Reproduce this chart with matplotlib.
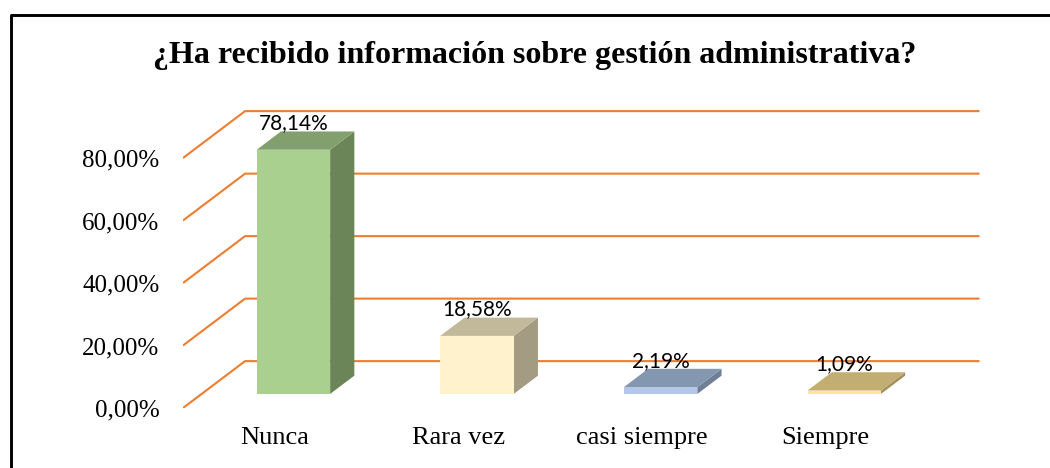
import matplotlib.pyplot as plt
from matplotlib.patches import Polygon
from matplotlib.lines import Line2D

categories = ['Nunca', 'Rara vez', 'casi siempre', 'Siempre']
values = [78.14, 18.58, 2.19, 1.09]
value_labels = ['78,14%', '18,58%', '2,19%', '1,09%']
y_ticks = [0, 20, 40, 60, 80]
y_tick_labels = ['0,00%', '20,00%', '40,00%', '60,00%', '80,00%']
title = '¿Ha recibido información sobre gestión administrativa?'

# front / top / side shades of each bar
front_colors = ['#A9D08E', '#FFF2CC', '#B4C7E7', '#FFE699']
top_colors = ['#82A06E', '#C2B89A', '#8497B0', '#C2AE72']
side_colors = ['#6C8558', '#A39C82', '#6F7F96', '#A3915C']
grid_color = '#ED7D31'

# oblique depth of the floor/back wall in data units (categories, percent)
DEPTH_X = 0.338
DEPTH_Y = 15.0
BAR_W = 0.40
F0, F1 = 0.30, 0.69  # bar front and back, as a fraction of the full depth

fig = plt.figure(figsize=(10.5, 4.68), dpi=100)
fig.patch.set_facecolor('white')

# chart frame, left and top edges
fig.add_artist(Line2D([10.5 / 1050, 10.5 / 1050, 1.0], [0.0, 1 - 14.5 / 468, 1 - 14.5 / 468],
                      transform=fig.transFigure, color='black', lw=2.1))

fig.text(535 / 1050, 1 - 56 / 468, title, ha='center', va='center',
         fontfamily='Liberation Serif', fontweight='bold', fontsize=23)

ax = fig.add_axes([183 / 1050, 60 / 468, 798.7 / 1050, 300 / 468])
ax.set_xlim(-0.5, 3.85)
ax.set_ylim(0, 96)
for s in ax.spines.values():
    s.set_visible(False)
ax.patch.set_alpha(0)

# gridlines: diagonal on the left wall, horizontal along the back wall
for v in y_ticks:
    ax.plot([-0.5, -0.5 + DEPTH_X, 3.5 + DEPTH_X], [v, v + DEPTH_Y, v + DEPTH_Y],
            color=grid_color, lw=1.5, zorder=1, solid_capstyle='butt')

dd = (F1 - F0) * DEPTH_X
dy = (F1 - F0) * DEPTH_Y
for i, v in enumerate(values):
    x0 = i - BAR_W / 2 + F0 * DEPTH_X
    x1 = i + BAR_W / 2 + F0 * DEPTH_X
    yb = F0 * DEPTH_Y
    yt = yb + v
    side = Polygon([(x1, yb), (x1 + dd, yb + dy), (x1 + dd, yt + dy), (x1, yt)],
                   closed=True, facecolor=side_colors[i], edgecolor='none', zorder=3)
    top = Polygon([(x0, yt), (x1, yt), (x1 + dd, yt + dy), (x0 + dd, yt + dy)],
                  closed=True, facecolor=top_colors[i], edgecolor='none', zorder=3)
    front = Polygon([(x0, yb), (x1, yb), (x1, yt), (x0, yt)],
                    closed=True, facecolor=front_colors[i], edgecolor='none', zorder=4)
    for p in (side, top, front):
        ax.add_patch(p)
    ax.annotate(value_labels[i], ((x0 + x1) / 2, yt), xytext=(0, 19),
                textcoords='offset points', ha='center', va='center',
                fontfamily='Lato', fontsize=15, color='black', zorder=5)

ax.set_yticks(y_ticks)
ax.set_yticklabels(y_tick_labels, fontfamily='Liberation Serif', fontsize=18)
ax.set_xticks(range(len(categories)))
ax.set_xticklabels(categories, fontfamily='Liberation Serif', fontsize=19)
ax.tick_params(axis='y', length=0, pad=17)
ax.tick_params(axis='x', length=0, pad=14)

fig.savefig('out.png', dpi=100)
